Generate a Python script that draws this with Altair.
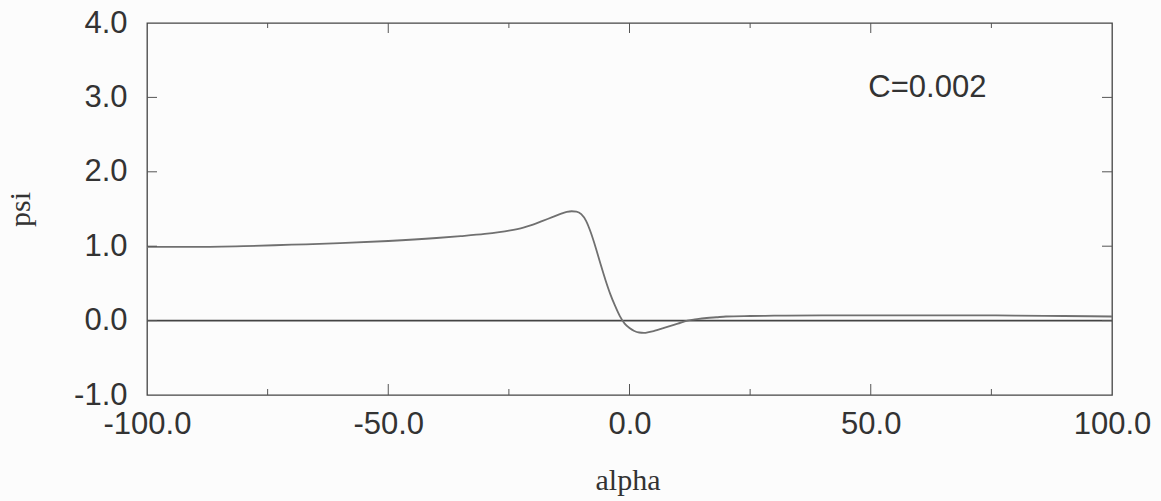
import altair as alt
import pandas as pd

# Curve psi(alpha)
alpha = [-100, -90, -80, -70, -60, -50, -40, -35, -30, -27, -25, -22, -20, -18, -16, -14,
         -13, -12, -11, -10, -9, -8, -7, -6, -5, -4, -3, -2, -1, 0, 1, 2, 3, 4, 5, 6,
         8, 10, 12, 14, 16, 18, 20, 25, 30, 40, 50, 60, 70, 80, 90, 100]
psi = [0.99, 0.99, 1.00, 1.02, 1.04, 1.07, 1.11, 1.135, 1.165, 1.19, 1.21, 1.25, 1.29, 1.34,
       1.39, 1.44, 1.46, 1.47, 1.465, 1.43, 1.34, 1.18, 0.98, 0.76, 0.55, 0.36, 0.20, 0.06,
       -0.04, -0.10, -0.14, -0.16, -0.165, -0.155, -0.14, -0.12, -0.08, -0.04, 0.0,
       0.02, 0.035, 0.045, 0.055, 0.062, 0.066, 0.07, 0.07, 0.07, 0.07, 0.068, 0.062, 0.055]

# Second (flat) series
alpha0 = [-100, 0, 100]
psi0 = [0.0, 0.0, 0.0]

# Axis ticks
x_major = [-50, 0, 50]
x_minor = [-75, -25, 25, 75]
y_ticks = [0, 1, 2, 3]
x_labels = [-100, -50, 0, 50, 100]
y_labels = [-1, 0, 1, 2, 3, 4]

# Annotation
note_text = ["C=0.002"]
note_x = [49.5]
note_y = [3.12]

W, H = 965, 372
SANS = "Liberation Sans"
SERIF = "Liberation Serif"
FS = 31

xscale = alt.Scale(domain=[-100, 100], nice=False, zero=False)
yscale = alt.Scale(domain=[-1, 4], nice=False, zero=False)

hyphen = "replace(datum.label, '\u2212', '-')"

xaxis = alt.Axis(values=x_labels, format=".1f", labelExpr=hyphen, ticks=False, domain=False, grid=False,
                 labelFont=SANS, labelFontSize=FS, labelColor="#333", labelPadding=14,
                 labelFlush=False, labelOverlap=False,
                 title="alpha", titleFont=SERIF, titleFontSize=30, titleFontWeight="normal",
                 titleColor="#333", titleX=W / 2 - 2, titleY=85, titleBaseline="middle")
yaxis = alt.Axis(values=y_labels, format=".1f", labelExpr=hyphen, ticks=False, domain=False, grid=False,
                 labelFont=SANS, labelFontSize=FS, labelColor="#333", labelPadding=20,
                 labelFlush=False, labelOverlap=False,
                 title="psi", titleFont=SERIF, titleFontSize=30, titleFontWeight="normal",
                 titleColor="#333", titleX=-127, titleY=H / 2, titleAngle=270,
                 titleBaseline="middle", titleAlign="center")

df = pd.DataFrame({"alpha": alpha, "psi": psi})
df0 = pd.DataFrame({"alpha": alpha0, "psi": psi0})

curve = alt.Chart(df).mark_line(color="#707070", strokeWidth=1.8, interpolate="monotone").encode(
    x=alt.X("alpha:Q", scale=xscale, axis=xaxis),
    y=alt.Y("psi:Q", scale=yscale, axis=yaxis),
)
flat = alt.Chart(df0).mark_line(color="#444", strokeWidth=1.6).encode(
    x=alt.X("alpha:Q", scale=xscale),
    y=alt.Y("psi:Q", scale=yscale),
)

tick_color = "#555"
dxM = pd.DataFrame({"t": x_major})
dxm = pd.DataFrame({"t": x_minor})
dy = pd.DataFrame({"t": y_ticks})

def xt(d, y0, y1):
    return alt.Chart(d).mark_rule(color=tick_color, strokeWidth=1).encode(
        x=alt.X("t:Q", scale=xscale), y=alt.value(y0), y2=alt.value(y1))

def yt(d, x0, x1):
    return alt.Chart(d).mark_rule(color=tick_color, strokeWidth=1).encode(
        y=alt.Y("t:Q", scale=yscale), x=alt.value(x0), x2=alt.value(x1))

ticks = [xt(dxM, H, H - 11), xt(dxm, H, H - 6), xt(dxM, 0, 10), xt(dxm, 0, 5),
         yt(dy, 0, 10), yt(dy, W, W - 10)]

note = alt.Chart(pd.DataFrame({"x": note_x, "y": note_y, "t": note_text})).mark_text(
    font=SANS, fontSize=FS, color="#333", align="left", baseline="middle").encode(
    x=alt.X("x:Q", scale=xscale), y=alt.Y("y:Q", scale=yscale), text="t:N")

chart = alt.layer(flat, curve, *ticks, note).properties(
    width=W, height=H,
    autosize=alt.AutoSizeParams(type="none"),
    padding={"left": 147, "top": 23, "right": 49, "bottom": 106},
    background="#fcfcfc",
).configure_view(stroke="#444", strokeWidth=1.3)

chart.save("out.html", embed_options={"renderer": "svg", "actions": False})
